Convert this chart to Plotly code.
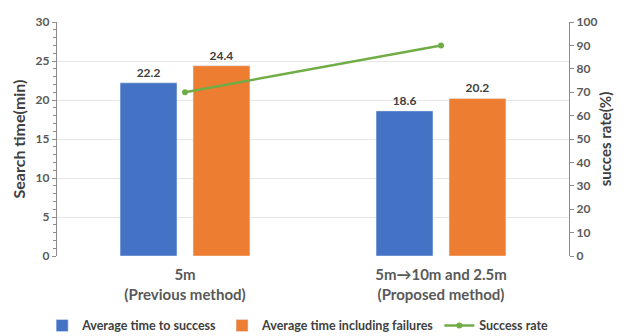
import plotly.graph_objects as go

categories = ["5m<br>(Previous method)", "5m→10m and 2.5m<br>(Proposed method)"]
avg_time_success = [22.2, 18.6]
avg_time_failures = [24.4, 20.2]
success_rate = [70, 90]

FONT = "Lato"
TICK = "#595959"
DARK = "#404040"
AX = "#8C8C8C"

fig = go.Figure()
fig.add_trace(go.Bar(
    x=categories, y=avg_time_success, name="Average time to success",
    marker=dict(color="#4472C4"), text=[f"{v:.1f}" for v in avg_time_success],
    textposition="outside", textfont=dict(family=FONT, size=12, color=DARK),
    cliponaxis=False,
))
fig.add_trace(go.Bar(
    x=categories, y=avg_time_failures, name="Average time including failures",
    marker=dict(color="#ED7D31"), text=[f"{v:.1f}" for v in avg_time_failures],
    textposition="outside", textfont=dict(family=FONT, size=12, color=DARK),
    cliponaxis=False,
))
fig.add_trace(go.Scatter(
    x=categories, y=success_rate, name="Success rate", yaxis="y2",
    mode="lines+markers", line=dict(color="#70AD47", width=2.5),
    marker=dict(color="#70AD47", size=6),
))

fig.update_layout(
    width=631, height=336,
    margin=dict(l=57, r=62, t=22, b=80),
    paper_bgcolor="white", plot_bgcolor="white",
    font=dict(family=FONT, color=TICK, size=12, weight="bold"),
    barmode="group", bargap=0.43, bargroupgap=0.22,
    showlegend=True,
    legend=dict(orientation="h", x=0.47, xanchor="center",
                yref="container", y=0.03, yanchor="middle",
                font=dict(family=FONT, size=12.5, color=DARK, weight="bold"),
                itemwidth=30, tracegroupgap=0),
    xaxis=dict(
        tickfont=dict(family=FONT, size=15, color=TICK, weight="bold"),
        showline=False, showgrid=False, ticks="", automargin=False,
        ticklabelstandoff=8,
    ),
    yaxis=dict(
        range=[0, 30], dtick=5, showgrid=True, gridcolor="#E6E6E6", gridwidth=1,
        showline=True, linecolor=AX, linewidth=1.2,
        ticks="outside", ticklen=4, tickcolor=AX,
        minor=dict(dtick=1, ticks="outside", ticklen=3, tickcolor=AX),
        tickfont=dict(family=FONT, size=12, color=TICK, weight="bold"),
        title=dict(text="Search time(min)", font=dict(family=FONT, size=16, color=DARK, weight="bold"), standoff=5),
        zeroline=False, automargin=False,
    ),
    yaxis3=dict(
        range=[0, 30], dtick=5, overlaying="y", side="left", showgrid=False,
        showline=False, showticklabels=False,
        ticks="inside", ticklen=4, tickcolor=AX,
        minor=dict(dtick=1, ticks="inside", ticklen=3, tickcolor=AX),
        zeroline=False, automargin=False,
    ),
    yaxis2=dict(
        range=[0, 100], dtick=10, overlaying="y", side="right", showgrid=False,
        showline=True, linecolor=AX, linewidth=1.2,
        ticks="outside", ticklen=4, tickcolor=AX,
        tickfont=dict(family=FONT, size=12, color=TICK, weight="bold"),
        title=dict(text="succes rate(%)", font=dict(family=FONT, size=15, color=DARK, weight="bold"), standoff=4),
        zeroline=False, automargin=False,
    ),
    yaxis4=dict(
        range=[0, 100], dtick=10, overlaying="y", side="right", showgrid=False,
        showline=False, showticklabels=False,
        ticks="inside", ticklen=4, tickcolor=AX,
        zeroline=False, automargin=False,
    ),
)

fig.write_html("out.html", config={"displayModeBar": False},
               post_script="document.body.style.margin='0';")
